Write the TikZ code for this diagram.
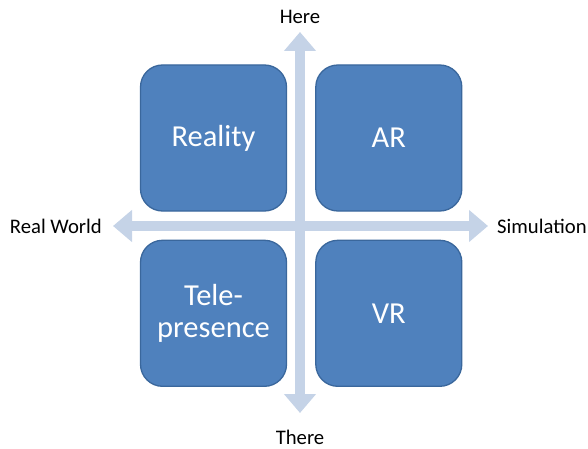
\documentclass[tikz,border=0pt]{standalone}
\usepackage{fontspec}
\setmainfont{Carlito}
\usepackage{xcolor}
\usepackage{tikz}
\usetikzlibrary{arrows.meta,positioning}
\definecolor{QuadBlue}{HTML}{4F81BD}
\definecolor{QuadEdge}{HTML}{3A679C}
\definecolor{AxisPale}{HTML}{C5D3E7}

\begin{document}
\begin{tikzpicture}[
  x=1pt, y=-1pt,
  node distance=28pt,
  quadbox/.style={
    draw=QuadEdge,
    fill=QuadBlue,
    line width=1.3pt,
    rounded corners=22pt,
    minimum width=146pt,
    minimum height=146pt,
    align=center,
    text=white,
    font=\fontsize{30.5}{32}\selectfont
  },
  axislabel/.style={font=\fontsize{20.7}{22}\selectfont, text=black, inner sep=0pt},
  axisarrow/.style={{Triangle[width=31pt,length=19pt]}-{Triangle[width=31pt,length=19pt]}, line width=10pt, draw=AxisPale}
]
\useasboundingbox (0,0) rectangle (588,449);
% quadrants
\node[quadbox] (real) at (213.5,138) {Reality};
\node[quadbox, right=of real] (ar) {AR};
\node[quadbox, below=of real] (tele) {Tele-\\presence};
\node[quadbox, below=of ar] (vr) {VR};
% axis ends
\coordinate (west) at (113,226);
\coordinate (east) at (488,226);
\coordinate (north) at (300,32);
\coordinate (south) at (300,413);
\draw[axisarrow] (west) -- (east);
\draw[axisarrow] (north) -- (south);
% labels
\node[axislabel] (here) at (300,17) {Here};
\node[axislabel] (there) at (300,437) {There};
\node[axislabel, anchor=east] (realworld) at (102,226) {Real World};
\node[axislabel, anchor=west] (simulation) at (497,226) {Simulation};
\end{tikzpicture}
\end{document}
